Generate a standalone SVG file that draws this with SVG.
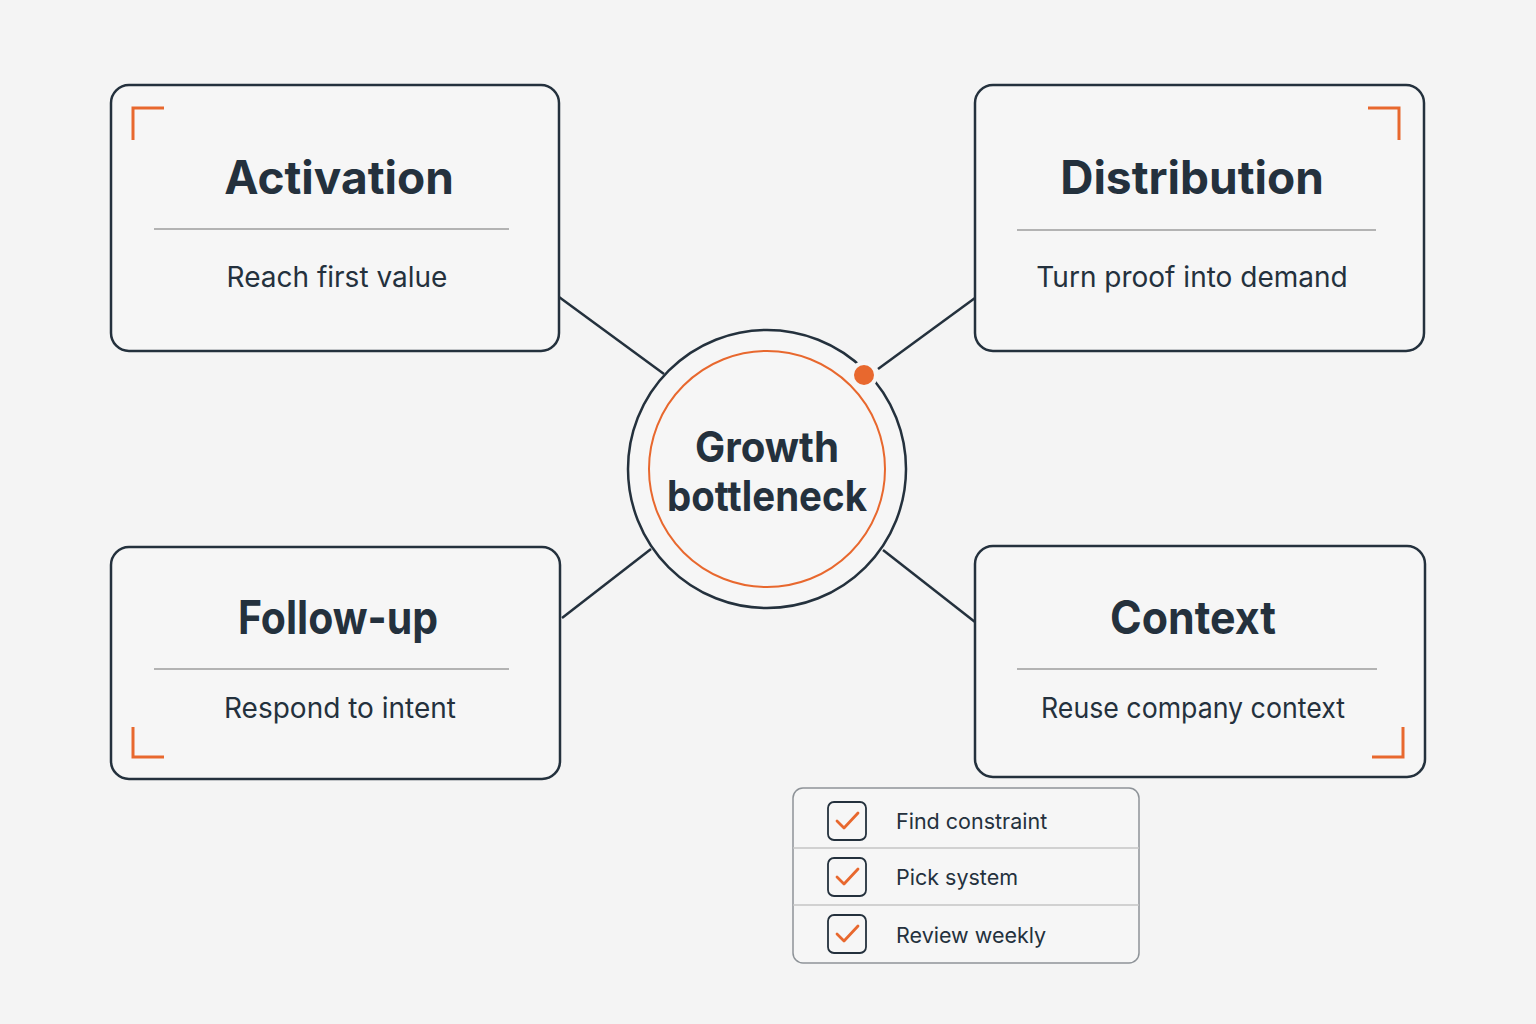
<svg xmlns="http://www.w3.org/2000/svg" width="1536" height="1024" viewBox="0 0 1536 1024">
<style>
.box{fill:#f6f6f6;stroke:#24313d;stroke-width:2.5}
.div{stroke:#b3b3b3;stroke-width:2}
.corner{fill:none;stroke:#e8682e;stroke-width:3}
.title{font-family:Inter,"Liberation Sans",sans-serif;font-weight:700;font-size:46px;fill:#24313d;text-anchor:middle}
.sub{font-family:Inter,"Liberation Sans",sans-serif;font-size:28px;fill:#24313d;text-anchor:middle}
.conn{stroke:#24313d;stroke-width:2.5;fill:none}
.chk{fill:none;stroke:#24313d;stroke-width:1.8}
.tick{fill:none;stroke:#e8682e;stroke-width:2.8;stroke-linecap:round;stroke-linejoin:round}
.item{font-family:Inter,"Liberation Sans",sans-serif;font-size:21.5px;fill:#24313d}
</style>
<rect width="1536" height="1024" fill="#f4f4f4"/>
<g id="connectors">
<line class="conn" x1="559" y1="297" x2="664" y2="374"/>
<line class="conn" x1="975" y1="298" x2="878" y2="369"/>
<line class="conn" x1="562" y1="618" x2="651" y2="549"/>
<line class="conn" x1="975" y1="622" x2="883" y2="550"/>
</g>
<g id="activation">
<rect class="box" x="111" y="85" width="448" height="266" rx="18"/>
<path class="corner" d="M133 140V108H164"/>
<text class="title" x="339" y="194">Activation</text>
<line class="div" x1="154" y1="229" x2="509" y2="229"/>
<text class="sub" x="337" y="287">Reach first value</text>
</g>
<g id="distribution">
<rect class="box" x="975" y="85" width="449" height="266" rx="18"/>
<path class="corner" d="M1368 108H1399V140"/>
<text class="title" x="1192" y="194">Distribution</text>
<line class="div" x1="1017" y1="230" x2="1376" y2="230"/>
<text class="sub" x="1192" y="287">Turn proof into demand</text>
</g>
<g id="followup">
<rect class="box" x="111" y="547" width="449" height="232" rx="18"/>
<path class="corner" d="M133 727V757H164"/>
<text class="title" x="338" y="634" textLength="200" lengthAdjust="spacingAndGlyphs">Follow-up</text>
<line class="div" x1="154" y1="669" x2="509" y2="669"/>
<text class="sub" x="340" y="718">Respond to intent</text>
</g>
<g id="context">
<rect class="box" x="975" y="546" width="450" height="231" rx="18"/>
<path class="corner" d="M1372 757H1403V727"/>
<text class="title" x="1193" y="634" textLength="166" lengthAdjust="spacingAndGlyphs">Context</text>
<line class="div" x1="1017" y1="669" x2="1377" y2="669"/>
<text class="sub" x="1193" y="718" textLength="304" lengthAdjust="spacingAndGlyphs">Reuse company context</text>
</g>
<g id="center">
<circle cx="767" cy="469" r="139" fill="#f6f6f6" stroke="#24313d" stroke-width="2.5"/>
<circle cx="767" cy="469" r="118" fill="none" stroke="#e8682e" stroke-width="2"/>
<circle cx="864" cy="375" r="14" fill="#f6f6f6"/>
<circle cx="864" cy="375" r="10" fill="#e8682e"/>
<text class="title" x="767" y="462" style="font-size:42px" textLength="144" lengthAdjust="spacingAndGlyphs">Growth</text>
<text class="title" x="767" y="511" style="font-size:42px" textLength="200" lengthAdjust="spacingAndGlyphs">bottleneck</text>
</g>
<g id="checklist">
<rect x="793" y="788" width="346" height="175" rx="10" fill="#f6f6f6" stroke="#8e9398" stroke-width="1.5"/>
<line x1="793" y1="848" x2="1139" y2="848" stroke="#c4c4c4" stroke-width="1.5"/>
<line x1="793" y1="905" x2="1139" y2="905" stroke="#c4c4c4" stroke-width="1.5"/>
<rect class="chk" x="828" y="802" width="38" height="38" rx="6"/>
<path class="tick" d="M837 821l7 7 14-15"/>
<text class="item" x="896" y="829">Find constraint</text>
<rect class="chk" x="828" y="858" width="38" height="38" rx="6"/>
<path class="tick" d="M837 877l7 7 14-15"/>
<text class="item" x="896" y="885">Pick system</text>
<rect class="chk" x="828" y="915" width="38" height="38" rx="6"/>
<path class="tick" d="M837 934l7 7 14-15"/>
<text class="item" x="896" y="943">Review weekly</text>
</g>
</svg>
